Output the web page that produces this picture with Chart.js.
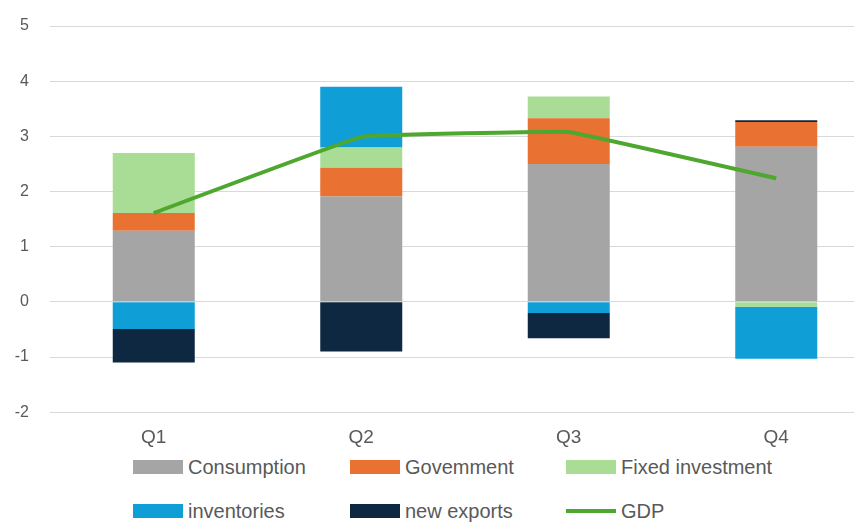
<!DOCTYPE html>
<html>
<head>
<meta charset="utf-8">
<script src="https://cdn.jsdelivr.net/npm/chart.js@4.4.1/dist/chart.umd.min.js"></script>
<style>
  html, body { margin: 0; padding: 0; background: #fff; overflow: hidden; }
  #wrap { position: relative; width: 854px; height: 522px; overflow: hidden; }
  #chart { position: absolute; left: 0; top: 0; }
  .item { position: absolute; height: 24px; font: 20px "Liberation Sans", Arial, sans-serif; color: #595959; line-height: 24px; white-space: nowrap; }
  .item i { position: absolute; left: 0; width: 50px; height: 14px; top: 5px; }
  .item span { position: absolute; left: 55px; top: 0; }
</style>
</head>
<body>
<div id="wrap">
  <canvas id="chart" width="884" height="455"></canvas>
  <div id="legend"></div>
</div>
<script>
const quarters = ['Q1', 'Q2', 'Q3', 'Q4'];
const consumption = [1.29, 1.91, 2.50, 2.81];
const government = [0.32, 0.52, 0.83, 0.45];
const fixedInvestment = [1.09, 0.37, 0.39, -0.09];
const inventories = [-0.49, 1.10, -0.20, -0.94];
const netExports = [-0.61, -0.90, -0.46, 0.03];
const gdp = [1.61, 2.99, 3.08, 2.24];
const yTicks = [5, 4, 3, 2, 1, 0, -1, -2];

const colors = {
  consumption: '#A5A5A5',
  government: '#E97132',
  fixed: '#A9DC95',
  inventories: '#0F9ED5',
  exports: '#0E2841',
  gdp: '#4EA72E'
};

function bar(label, data, color) {
  return {
    type: 'bar', label, data, backgroundColor: color, borderWidth: 0,
    categoryPercentage: 0.8, barPercentage: 0.494, order: 1
  };
}

new Chart(document.getElementById('chart'), {
  data: {
    labels: quarters,
    datasets: [
      bar('Consumption', consumption, colors.consumption),
      bar('Govemment', government, colors.government),
      bar('Fixed investment', fixedInvestment, colors.fixed),
      bar('inventories', inventories, colors.inventories),
      bar('new exports', netExports, colors.exports),
      {
        type: 'line', label: 'GDP', data: gdp, stack: 'line', order: 0,
        borderColor: colors.gdp, borderWidth: 4, pointRadius: 0,
        tension: 0.05, borderCapStyle: 'butt', borderJoinStyle: 'round', fill: false
      }
    ]
  },
  options: {
    responsive: false,
    animation: false,
    layout: { padding: { top: 26, right: 4, left: 0, bottom: 0 } },
    plugins: { legend: { display: false }, tooltip: { enabled: false } },
    scales: {
      x: {
        stacked: true,
        grid: { display: false },
        border: { display: false },
        ticks: { color: '#595959', font: { family: 'Liberation Sans', size: 19 }, padding: 6 }
      },
      y: {
        stacked: true,
        min: -2, max: 5,
        afterBuildTicks: s => { s.ticks = yTicks.map(v => ({ value: v })); },
        afterFit: s => { s.width = 50; s.paddingTop = 0; s.paddingBottom = 0; },
        grid: { color: '#D9D9D9', lineWidth: 1, drawTicks: false },
        border: { display: false },
        ticks: { color: '#595959', font: { family: 'Liberation Sans', size: 16 }, padding: 21 }
      }
    }
  }
});

// legend laid out in columns like the original
const legendItems = [
  ['Consumption', colors.consumption, 133, 455, false],
  ['Govemment', colors.government, 350, 455, false],
  ['Fixed investment', colors.fixed, 566, 455, false],
  ['inventories', colors.inventories, 133, 499, false],
  ['new exports', colors.exports, 350, 499, false],
  ['GDP', colors.gdp, 566, 499, true]
];
const legend = document.getElementById('legend');
legendItems.forEach(([text, color, x, y, isLine]) => {
  const d = document.createElement('div');
  d.className = 'item';
  d.style.left = x + 'px';
  d.style.top = y + 'px';
  const sw = document.createElement('i');
  sw.style.background = color;
  if (isLine) { sw.style.height = '4px'; sw.style.top = '10px'; }
  const t = document.createElement('span');
  t.textContent = text;
  d.appendChild(sw);
  d.appendChild(t);
  legend.appendChild(d);
});
</script>
</body>
</html>
